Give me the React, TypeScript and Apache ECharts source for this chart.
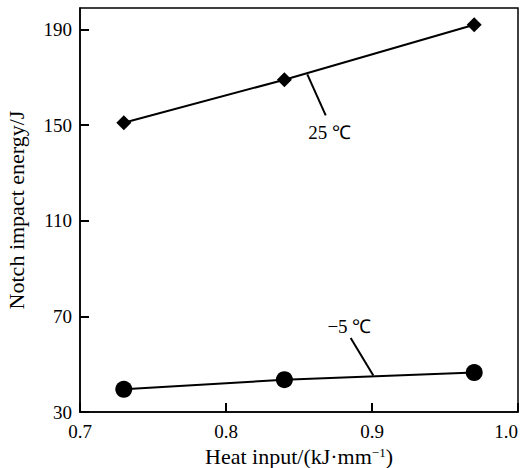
import React, { useEffect, useRef } from "react";
import * as echarts from "echarts";

const heatInput = [0.73, 0.84, 0.97];
const energy25 = [151, 169, 192];
const energyMinus5 = [39.5, 43.5, 46.5];
const yTicks = [30, 70, 110, 150, 190];
const xTicks = [0.7, 0.8, 0.9, 1.0];
const label25 = "25 ℃";
const labelMinus5 = "−5 ℃";

const FONT = "Liberation Serif";

export default function App() {
  const ref = useRef<HTMLDivElement>(null);
  useEffect(() => {
    if (!ref.current) return;
    const chart = echarts.init(ref.current, undefined, { renderer: "svg" });
    const lineStyle = { color: "#000", width: 2 };
    chart.setOption({
      animation: false,
      backgroundColor: "#fff",
      textStyle: { fontFamily: FONT },
      grid: {
        left: 80,
        right: 5,
        top: 8,
        bottom: 56,
        containLabel: false,
        outerBoundsMode: "none",
        show: true,
        borderColor: "#000",
        borderWidth: 1.5,
      },
      xAxis: {
        type: "value",
        min: 0.7,
        max: 1.0,
        interval: 0.1,
        name: "Heat input/(kJ·mm{sup|−1})",
        nameLocation: "middle",
        nameGap: 25,
        nameTextStyle: {
          fontFamily: FONT,
          fontSize: 22,
          color: "#000",
          rich: {
            sup: { fontFamily: FONT, fontSize: 13, color: "#000", verticalAlign: "top", padding: [0, 0, 8, 0] },
          },
        },
        axisLine: { show: true, lineStyle: { color: "#000", width: 1.5 } },
        axisTick: { show: true, inside: true, length: 9, lineStyle: { color: "#000", width: 2 }, customValues: xTicks },
        axisLabel: {
          fontFamily: FONT,
          fontSize: 19,
          color: "#000",
          margin: 10,
          customValues: xTicks,
          alignMaxLabel: "right",
          formatter: (v: number) => v.toFixed(1),
        },
        splitLine: { show: false },
      },
      yAxis: {
        type: "value",
        min: 30,
        max: 199,
        name: "Notch impact energy/J",
        nameLocation: "middle",
        nameGap: 53,
        nameTextStyle: { fontFamily: FONT, fontSize: 22, color: "#000" },
        axisLine: { show: true, lineStyle: { color: "#000", width: 1.5 } },
        axisTick: { show: true, inside: true, length: 9, lineStyle: { color: "#000", width: 2 }, customValues: yTicks },
        axisLabel: {
          fontFamily: FONT,
          fontSize: 19,
          color: "#000",
          margin: 8,
          customValues: yTicks,
        },
        splitLine: { show: false },
      },
      series: [
        {
          type: "line",
          name: label25,
          data: heatInput.map((x, i) => [x, energy25[i]]),
          symbol: "diamond",
          symbolSize: 15,
          itemStyle: { color: "#000" },
          lineStyle,
          markLine: {
            silent: true,
            symbol: "none",
            lineStyle: { color: "#000", width: 2, type: "solid" },
            label: { show: false },
            data: [[{ coord: [0.8557, 171.2] }, { coord: [0.8683, 154.1] }]],
          },
          markPoint: {
            symbol: "circle",
            symbolSize: 0,
            label: { show: true, formatter: label25, fontFamily: FONT, fontSize: 19, color: "#000" },
            data: [{ coord: [0.871, 147.0] }],
          },
        },
        {
          type: "line",
          name: labelMinus5,
          data: heatInput.map((x, i) => [x, energyMinus5[i]]),
          symbol: "circle",
          symbolSize: 17,
          itemStyle: { color: "#000" },
          lineStyle,
          markLine: {
            silent: true,
            symbol: "none",
            lineStyle: { color: "#000", width: 2, type: "solid" },
            label: { show: false },
            data: [[{ coord: [0.8854, 61.0] }, { coord: [0.9009, 45.3] }]],
          },
          markPoint: {
            symbol: "circle",
            symbolSize: 0,
            label: { show: true, formatter: labelMinus5, fontFamily: FONT, fontSize: 19, color: "#000" },
            data: [{ coord: [0.8845, 65.8] }],
          },
        },
      ],
    });
    return () => chart.dispose();
  }, []);
  return <div ref={ref} style={{ width: 523, height: 468, position: "absolute", left: 0, top: 0 }} />;
}
